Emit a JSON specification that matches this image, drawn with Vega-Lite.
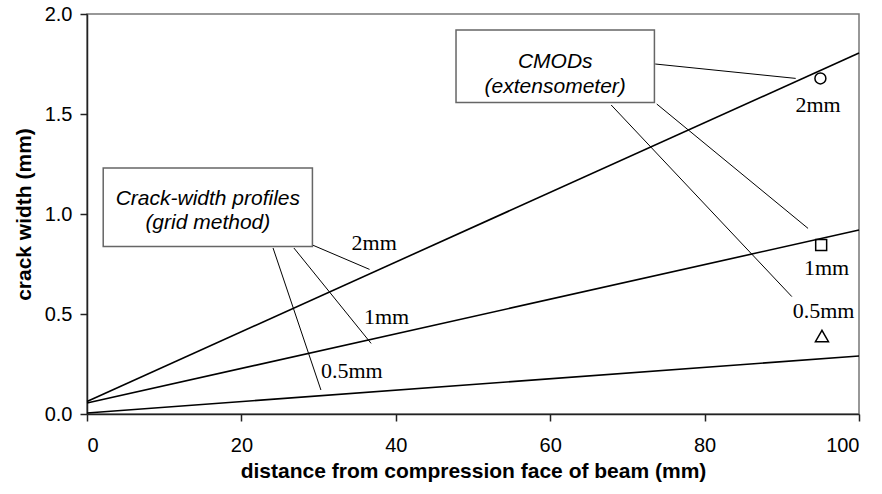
{
  "$schema": "https://vega.github.io/schema/vega-lite/v6.json",
  "width": 772,
  "height": 400,
  "autosize": {"type": "none"},
  "padding": {"left": 87, "top": 14, "right": 23, "bottom": 80},
  "background": "white",
  "config": {
    "view": {"stroke": "#777777", "strokeWidth": 1.5},
    "axis": {
      "grid": false,
      "domainColor": "#222222",
      "tickColor": "#222222",
      "domainWidth": 1.5,
      "tickWidth": 1.5,
      "tickSize": 7,
      "labelFont": "Liberation Sans",
      "labelFontSize": 20,
      "labelColor": "#000000",
      "titleFont": "Liberation Sans",
      "titleFontSize": 21,
      "titleFontWeight": "bold",
      "titleColor": "#000000"
    }
  },
  "datasets": {
    "lines": [
      {"series": "2mm", "x": 0, "y": 0.063},
      {"series": "2mm", "x": 100, "y": 1.805},
      {"series": "1mm", "x": 0, "y": 0.055},
      {"series": "1mm", "x": 100, "y": 0.92},
      {"series": "0.5mm", "x": 0, "y": 0.005},
      {"series": "0.5mm", "x": 100, "y": 0.29}
    ],
    "leaders": [
      {"x": 29.2, "y": 0.845, "x2": 36.6, "y2": 0.723},
      {"x": 26.8, "y": 0.83, "x2": 36.8, "y2": 0.353},
      {"x": 24.1, "y": 0.83, "x2": 30.3, "y2": 0.12},
      {"x": 73.6, "y": 1.75, "x2": 91.8, "y2": 1.678},
      {"x": 73.8, "y": 1.55, "x2": 93.4, "y2": 0.928},
      {"x": 67.9, "y": 1.545, "x2": 91.3, "y2": 0.587}
    ],
    "boxes": [
      {"x": 2.1, "x2": 29.2, "y": 1.23, "y2": 0.837},
      {"x": 47.8, "x2": 73.5, "y": 1.92, "y2": 1.558}
    ],
    "boxtext": [
      {"x": 15.65, "y": 1.077, "label": "Crack-width profiles"},
      {"x": 15.65, "y": 0.955, "label": "(grid method)"},
      {"x": 60.65, "y": 1.762, "label": "CMODs"},
      {"x": 60.65, "y": 1.637, "label": "(extensometer)"}
    ],
    "points": [
      {"x": 95, "y": 1.678, "kind": "circle"},
      {"x": 95.1, "y": 0.845, "kind": "square"},
      {"x": 95.2, "y": 0.39, "kind": "triangle-up"}
    ],
    "labels": [
      {"x": 37.2, "y": 0.855, "label": "2mm"},
      {"x": 38.8, "y": 0.487, "label": "1mm"},
      {"x": 34.3, "y": 0.215, "label": "0.5mm"},
      {"x": 94.7, "y": 1.545, "label": "2mm"},
      {"x": 95.8, "y": 0.73, "label": "1mm"},
      {"x": 95.4, "y": 0.513, "label": "0.5mm"}
    ]
  },
  "encoding": {
    "x": {
      "type": "quantitative",
      "scale": {"domain": [0, 100], "nice": false, "zero": false},
      "axis": {"values": [0, 20, 40, 60, 80, 100], "title": "distance from compression face of beam (mm)", "labelPadding": 14, "titlePadding": 5}
    },
    "y": {
      "type": "quantitative",
      "scale": {"domain": [0, 2], "nice": false, "zero": false},
      "axis": {"values": [0, 0.5, 1, 1.5, 2], "format": ".1f", "title": "crack width (mm)", "labelPadding": 8, "titlePadding": 10}
    }
  },
  "layer": [
    {
      "data": {"name": "lines"},
      "mark": {"type": "line", "color": "#000000", "strokeWidth": 1.6},
      "encoding": {
        "x": {"field": "x", "type": "quantitative"},
        "y": {"field": "y", "type": "quantitative"},
        "detail": {"field": "series"}
      }
    },
    {
      "data": {"name": "leaders"},
      "mark": {"type": "rule", "color": "#000000", "strokeWidth": 1},
      "encoding": {
        "x": {"field": "x", "type": "quantitative"},
        "y": {"field": "y", "type": "quantitative"},
        "x2": {"field": "x2"},
        "y2": {"field": "y2"}
      }
    },
    {
      "data": {"name": "boxes"},
      "mark": {"type": "rect", "fill": "#ffffff", "stroke": "#666666", "strokeWidth": 1.5},
      "encoding": {
        "x": {"field": "x", "type": "quantitative"},
        "y": {"field": "y", "type": "quantitative"},
        "x2": {"field": "x2"},
        "y2": {"field": "y2"}
      }
    },
    {
      "data": {"name": "boxtext"},
      "mark": {"type": "text", "font": "Liberation Sans", "fontSize": 21, "fontStyle": "italic", "color": "#000000", "align": "center", "baseline": "middle"},
      "encoding": {
        "x": {"field": "x", "type": "quantitative"},
        "y": {"field": "y", "type": "quantitative"},
        "text": {"field": "label"}
      }
    },
    {
      "data": {"name": "points"},
      "transform": [{"filter": "datum.kind !== 'triangle-up'"}],
      "mark": {"type": "point", "filled": false, "stroke": "#000000", "strokeWidth": 1.5, "opacity": 1, "size": 120},
      "encoding": {
        "x": {"field": "x", "type": "quantitative"},
        "y": {"field": "y", "type": "quantitative"},
        "shape": {"field": "kind", "type": "nominal", "scale": null}
      }
    },
    {
      "data": {"name": "points"},
      "transform": [{"filter": "datum.kind === 'triangle-up'"}],
      "mark": {"type": "point", "shape": "triangle-up", "filled": false, "stroke": "#000000", "strokeWidth": 1.5, "opacity": 1, "size": 170},
      "encoding": {
        "x": {"field": "x", "type": "quantitative"},
        "y": {"field": "y", "type": "quantitative"}
      }
    },
    {
      "data": {"name": "labels"},
      "mark": {"type": "text", "font": "Liberation Serif", "fontSize": 22, "color": "#000000", "align": "center", "baseline": "middle"},
      "encoding": {
        "x": {"field": "x", "type": "quantitative"},
        "y": {"field": "y", "type": "quantitative"},
        "text": {"field": "label"}
      }
    }
  ]
}
